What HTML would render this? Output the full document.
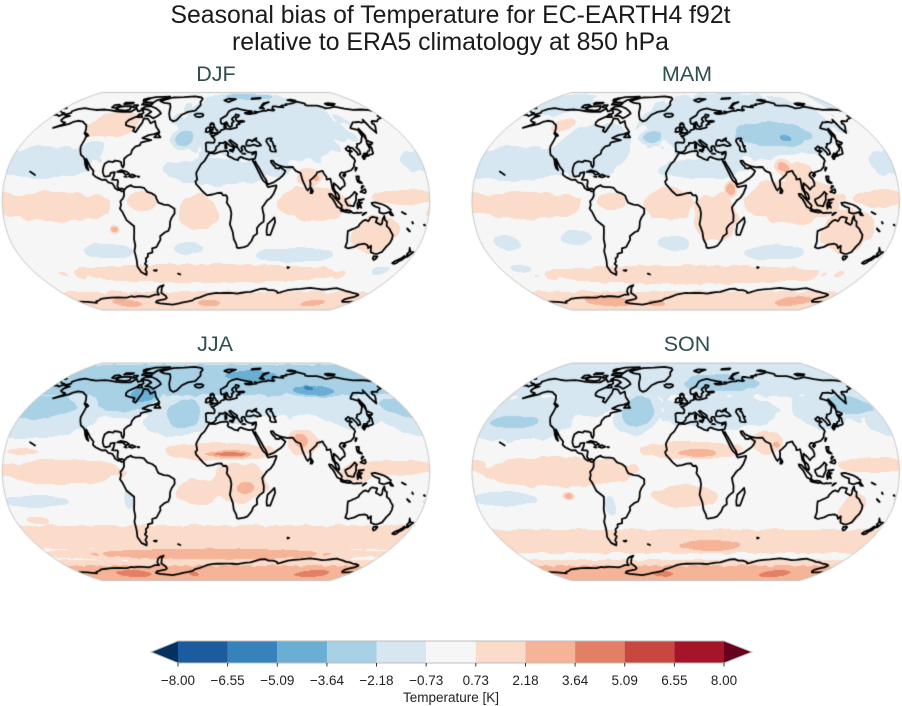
<!DOCTYPE html>
<html><head><meta charset="utf-8">
<style>
html,body{margin:0;padding:0;background:#fff;}
#wrap{position:relative;width:902px;height:706px;overflow:hidden;background:#fff;}
canvas,svg{position:absolute;left:0;top:0;}
text{font-family:"Liberation Sans",Arial,sans-serif;}
</style></head>
<body><div id="wrap">
<canvas id="cv" width="902" height="706"></canvas>
<svg width="902" height="706" viewBox="0 0 902 706" xmlns="http://www.w3.org/2000/svg">
<text x="450.5" y="23" font-size="24.8" text-anchor="middle" fill="#1a1a1a">Seasonal bias of Temperature for EC-EARTH4 f92t</text>
<text x="450.5" y="50" font-size="24.8" text-anchor="middle" fill="#1a1a1a">relative to ERA5 climatology at 850 hPa</text>
<g font-size="21.5" fill="#2f4f4f" text-anchor="middle">
<text x="216" y="81">DJF</text>
<text x="687" y="81">MAM</text>
<text x="215" y="351">JJA</text>
<text x="687" y="351">SON</text>
</g>
<g>
<polygon points="178,641 151,652 178,663" fill="#053061"/>
<polygon points="724,641 752,652 724,663" fill="#67001f"/>
<rect x="178" y="641" width="49.7" height="22" fill="#1c5c9e"/>
<rect x="227.6" y="641" width="49.7" height="22" fill="#3683bb"/>
<rect x="277.3" y="641" width="49.7" height="22" fill="#6aaed4"/>
<rect x="326.9" y="641" width="49.7" height="22" fill="#a8d1e5"/>
<rect x="376.5" y="641" width="49.7" height="22" fill="#d6e7f1"/>
<rect x="426.2" y="641" width="49.7" height="22" fill="#f6f6f6"/>
<rect x="475.8" y="641" width="49.7" height="22" fill="#fbdccb"/>
<rect x="525.5" y="641" width="49.7" height="22" fill="#f5b497"/>
<rect x="575.1" y="641" width="49.7" height="22" fill="#e27f65"/>
<rect x="624.7" y="641" width="49.7" height="22" fill="#c8473f"/>
<rect x="674.4" y="641" width="49.6" height="22" fill="#a51429"/>
<polygon points="151,652 178,641 724,641 752,652 724,663 178,663" fill="none" stroke="#bdbdbd" stroke-width="1"/>
<g stroke="#333" stroke-width="1">
<line x1="178" y1="663" x2="178" y2="666.5"/><line x1="227.6" y1="663" x2="227.6" y2="666.5"/>
<line x1="277.3" y1="663" x2="277.3" y2="666.5"/><line x1="326.9" y1="663" x2="326.9" y2="666.5"/>
<line x1="376.5" y1="663" x2="376.5" y2="666.5"/><line x1="426.2" y1="663" x2="426.2" y2="666.5"/>
<line x1="475.8" y1="663" x2="475.8" y2="666.5"/><line x1="525.5" y1="663" x2="525.5" y2="666.5"/>
<line x1="575.1" y1="663" x2="575.1" y2="666.5"/><line x1="624.7" y1="663" x2="624.7" y2="666.5"/>
<line x1="674.4" y1="663" x2="674.4" y2="666.5"/><line x1="724" y1="663" x2="724" y2="666.5"/>
</g>
<g font-size="13.5" fill="#222" text-anchor="middle">
<text x="178" y="685">−8.00</text><text x="227.6" y="685">−6.55</text>
<text x="277.3" y="685">−5.09</text><text x="326.9" y="685">−3.64</text>
<text x="376.5" y="685">−2.18</text><text x="426.2" y="685">−0.73</text>
<text x="475.8" y="685">0.73</text><text x="525.5" y="685">2.18</text>
<text x="575.1" y="685">3.64</text><text x="624.7" y="685">5.09</text>
<text x="674.4" y="685">6.55</text><text x="724" y="685">8.00</text>
</g>
<text x="451" y="702" font-size="13.5" fill="#222" text-anchor="middle">Temperature [K]</text>
</g>
</svg>
</div>
<script>
(function(){
const XT=[1,.9986,.9954,.99,.9822,.973,.96,.9427,.9216,.8962,.8679,.835,.7986,.7597,.7186,.6732,.6213,.5722,.5322];
const YT=[0,.062,.124,.186,.248,.31,.372,.434,.4958,.5571,.6176,.6769,.7346,.7903,.8435,.8936,.9394,.9761,1];
function XY(lat){const a=Math.min(90,Math.abs(lat))/5;let i=Math.floor(a);if(i>17)i=17;const f=a-i;
 return [XT[i]+(XT[i+1]-XT[i])*f,(YT[i]+(YT[i+1]-YT[i])*f)*(lat<0?-1:1)];}
function invY(Y){for(let i=0;i<18;i++){if(Y<=YT[i+1])return 5*(i+(Y-YT[i])/(YT[i+1]-YT[i]));}return 90;}
const W=213.8,H=108.75;
const PAN=[[216,201.25],[685.7,201.25],[216,471.8],[685.7,471.8]];
function proj(lon,lat,p){const r=XY(lat);return [p[0]+W*r[0]*lon/180,p[1]-H*r[1]];}
const LV=[-8,-6.55,-5.09,-3.64,-2.18,-0.73,0.73,2.18,3.64,5.09,6.55,8];
const COL=['#053061','#1c5c9e','#3683bb','#6aaed4','#a8d1e5','#d6e7f1','#f6f6f6','#fbdccb','#f5b497','#e27f65','#c8473f','#a51429','#67001f'];
const RGB=COL.map(c=>[parseInt(c.substr(1,2),16),parseInt(c.substr(3,2),16),parseInt(c.substr(5,2),16)]);
function colIdx(v){let i=0;while(i<12&&v>=LV[i])i++;return i;}

const B=[
[[-150,29,52,13,-1.5],[45,58,95,32,-1.5],[0,22,50,11,-1.5],[50,25,15,8,-1.5],[-30,47,12,8,-2.9],[45,83,45,5,-2.9],
 [-112,38,12,9,-1.5],[-97,-37,25,6,-1.5],[-25,-35,14,5,-1.5],[70,-40,40,6,-1.5],[160,-52,10,4,-1.5],
 [-105,58,28,12,1.5],[-135,-4,55,12,1.5],[82,-2,32,14,1.5],[138,-25,22,15,1.5],[160,3,30,6,1.5],[80,18,12,8,1.5],
 [-15,-8,18,14,1.5],[-62,0,13,8,1.5],[-10,-54,150,8,1.5],[0,-82,1000,14,1.6],[-120,-80,25,6,2.9],[-10,-80,20,5,2.9],
 [130,-80,20,5,2.9],[-87,-21,4,3,2.9],[85,17,4,3,2.9]],
[[-150,28,55,14,-1.5],[-155,76,40,12,-1.5],[-85,38,38,22,-1.5],[55,60,110,32,-1.5],[-32,48,12,6,-2.9],[85,50,50,13,-2.9],
 [95,47,8,4,-4.3],[15,24,40,8,-1.5],[-157,-31,13,6,-1.5],[-95,-27,14,6,-1.5],[-10,-31,15,6,-1.5],[80,-38,30,6,-1.5],
 [-160,-51,12,4,-1.5],[-125,57,12,6,1.5],[-135,-3,55,11,1.5],[-15,-2,22,13,1.5],[90,0,45,18,1.5],[140,-22,25,18,1.5],
 [165,2,25,7,1.5],[95,22,18,10,1.5],[85,26,8,6,2.9],[25,-12,20,20,1.5],[38,9,5,6,2.9],[-62,0,13,7,1.5],
 [0,-55,160,8,1.5],[0,-82,1000,14,1.7],[-100,-78,40,8,2.9],[140,-78,30,7,2.9],[-40,-80,15,5,2.9]],
[[0,65,1000,25,-1.6],[-160,38,50,14,-1.6],[-40,38,25,12,-1.6],[15,45,30,10,-1.6],[125,45,30,14,-1.6],
 [0,72,1000,20,-2.9],[-168,48,45,12,-2.9],[-90,55,40,14,-2.9],[-30,43,22,15,-2.9],[-75,58,22,9,-4.3],
 [105,61,35,6,-4.3],[45,74,50,8,-4.3],[100,63,8,3,-5.8],[-155,-22,28,5,-1.5],[-75,-20,4,8,-1.5],
 [2,15,50,7,1.6],[12,13,26,4,2.9],[11,13,22,2.2,4.3],[75,22,15,10,1.6],[73,23,8,7,2.9],[20,-8,25,16,1.6],
 [25,-12,10,6,2.9],[-130,0,55,10,1.5],[-15,-15,20,10,1.5],[150,3,40,6,1.5],[120,0,15,8,1.5],
 [-165,15,15,2.5,1.5],[-160,-36,10,3,1.5],
 [0,-49,1000,10,1.5],[-5,-62,170,6,2.9],[0,-82,1000,14,2.9],[-110,-80,35,6,4.3],[130,-80,35,6,4.3],[-30,-80,10,4,4.3]],
[[-150,40,55,18,-1.6],[-155,37,32,6,-2.9],[158,50,28,10,-2.9],[0,75,1000,20,-1.6],[-95,55,35,15,-1.6],
 [-45,45,20,16,-2.9],[40,68,60,10,-2.9],[30,45,60,14,-1.6],[125,45,25,14,-1.6],[-155,-20,28,6,-1.5],
 [-65,-25,5,8,-1.5],[5,16,45,7,1.6],[10,14,22,4,2.9],[70,22,15,9,1.6],[78,20,4,3,2.9],[-108,0,70,12,1.5],
 [-100,-18,5,3,2.9],[0,-18,30,9,1.5],[160,5,35,6,1.5],[145,-28,12,12,1.5],[0,-52,1000,10,1.5],
 [25,-55,40,6,2.9],[0,-82,1000,14,2.9],[-30,-80,20,5,4.3],[120,-80,30,6,4.3]]
];
function field(lon,lat,BB){let pos=0,neg=0;
 for(let k=0;k<BB.length;k++){const b=BB[k];let dl=lon-b[0];if(dl>180)dl-=360;else if(dl<-180)dl+=360;
  const u=dl/b[2],w=(lat-b[1])/b[3];const d2=u*u+w*w;if(d2>4)continue;const g=Math.exp(-d2*d2)*b[4];
  if(g>pos)pos=g;else if(g<neg)neg=g;}
 const n=0.2*Math.sin(lon*0.19+lat*0.11)*Math.cos(lat*0.27-lon*0.05)+0.12*Math.sin(lon*0.43+1)*Math.sin(lat*0.37);
 return pos+neg+n;}

const cv=document.getElementById('cv');const ctx=cv.getContext('2d');
for(let k=0;k<4;k++){const p=PAN[k];
 const x0=Math.floor(p[0]-W)-1,y0=Math.floor(p[1]-H)-1,w=Math.ceil(2*W)+3,h=Math.ceil(2*H)+3;
 const im=ctx.createImageData(w,h);const d=im.data;
 for(let j=0;j<h;j++){const py=y0+j+0.5;const Yv=(p[1]-py)/H;if(Math.abs(Yv)>1)continue;
  const lat=invY(Math.abs(Yv))*(Yv<0?-1:1);const X=XY(lat)[0];
  for(let i=0;i<w;i++){const px=x0+i+0.5;const lon=(px-p[0])/(W*X)*180;if(Math.abs(lon)>180)continue;
   const c=RGB[colIdx(field(lon,lat,B[k]))];const o=(j*w+i)*4;d[o]=c[0];d[o+1]=c[1];d[o+2]=c[2];d[o+3]=255;}}
 ctx.putImageData(im,x0,y0);}

const OPEN=[
[-77.8,7.5,-80,7.3,-80.5,8.2,-83,8.3,-85.7,10,-86,11,-88,13.3,-91.5,14,-94,16,-97,15.8,-100,17,-103,18.2,-105.5,20,-105.5,22.5,-109,25.5,-112,29,-114.5,31.5,-113,29,-112,26.5,-110,23,-112,24.5,-114,27.5,-115,30,-117,32.5,-120.5,34.5,-122.5,37.5,-124,40.5,-124,46,-124.5,48.3,-123,49,-125,50,-128,51,-130,54,-133,57,-137,58.5,-140,59.8,-146,60.5,-150,59.5,-152,58,-156,57,-160,56,-164,54.8,-158,57.5,-157.5,59,-162,59.8,-165,61,-165,63,-161,64.5,-166,64.5,-168,65.6,-164,67,-166,68.5,-162,70.3,-156,71.3,-148,70.3,-140,69.6,-130,70,-124,69.5,-115,68.5,-108,68,-98,68,-94,71,-90,68.5,-85,69.5,-82,67,-87,64,-93,61,-94,59,-92.5,57,-88,56,-82,55,-82,52.5,-79,51.5,-78,55,-77,59,-78,62.5,-73,62,-70,60,-68,58.5,-64.5,60.3,-61,56,-57,53,-55.5,51.5,-60,50,-65,49.2,-70,47,-64,46,-61,45.5,-66,44.5,-70,43.5,-70,41.7,-74,40.6,-76,38,-76,35,-79,33.5,-81,31.5,-80,27,-80.5,25,-82,26.5,-83,29,-85,29.7,-89,30.2,-90,29,-94,29.6,-97,27.8,-97.5,25,-97.5,22,-96,19,-94.5,18.2,-91,18.8,-90.5,21,-87,21.5,-87.5,18,-88.5,16,-84,15.8,-83.3,15,-83.5,11,-81.7,9,-79.5,9.5,-77.5,8.5],
[-77.5,8.5,-75.5,10.5,-72,12,-71,11,-68,10.5,-64,10.5,-61,10,-58,7,-54,5.8,-51,4,-50,1.8,-48.5,-1,-44,-2.5,-40,-2.8,-35,-5.5,-35,-9,-37.5,-12,-39,-15,-39.5,-19,-41,-22,-44,-23,-48.5,-26,-48.5,-28.5,-50.5,-31,-53,-34,-57,-35,-57.5,-38,-62,-39,-62.5,-41,-65,-42.5,-65.5,-45,-67.5,-46.5,-66,-48,-69,-51,-68.5,-52.5,-70,-55,-74,-53,-75.5,-48.5,-74,-44,-73.5,-40,-73.5,-37,-71.5,-33,-71.5,-28,-70.5,-23,-70,-18.5,-72,-17,-76,-14,-79,-8,-81,-5.5,-80,-2.5,-80.5,0,-78.5,2,-77.5,4,-77.8,7.5],
[32.5,30,33.8,27.8,34.5,29.5,35,28,37,25,39,21.5,41,18,42.8,15.5,43.5,12.7,45,12.8,49,14,52,15.8,55,17.5,57,18.9,58.5,20.5,59.8,22.5,58,23.7,56.3,24.7,56.3,26.3,54.5,24.3,51.5,24.5,51,26,50,26.5,48.5,28.5,48,30,50,30.1,51.5,27.9,54.5,26.6,57,25.8,61.5,25.2,66.5,25.4,67.5,23.9,69,22.3,72.5,21,73,19,73.5,16,74.8,12.8,76.3,9.5,77.5,8,78.3,8.9,79.8,10.3,80.2,13.5,80,15.5,82.3,17,86,19.8,87,21.5,89,21.9,91.8,22.5,92.5,20.6,94.3,18.2,94.3,16,97.5,16.7,98,13.5,98.5,9,100.3,6.5,101.3,2.9,103.5,1.3,104,2,103.4,4.8,102.2,6.2,100.5,7.5,99.5,10.2,100,13.4,101,12.6,103,11,105,8.6,106.7,10.4,109,11.5,109.3,13.4,108.3,16.2,106.5,18.1,105.8,19.2,106.7,20.7,108,21.5,110,21,110.5,20.3,111,21.5,113.5,22.2,116.5,23,119.5,25.5,120.5,28,122,29.9,121.7,31.5,120.5,33,119.3,34.5,120,36.2,122.5,37,121,37.7,119,37.2,118,38.2,117.8,39.2,119.5,39.9,121,40.8,122,40.3,121.5,39,124,39.8,125.5,37.8,126.5,36,126.5,34.4,129,35,129.5,36.5,129.5,38,128,40,129.7,41,130.6,42.5,133,42.8,135.5,43.9,138,46.5,140.3,48.5,140.5,51,141.3,53,137.5,54,135.2,54.7,137,56,140,57.5,143,59.2,146,59.3,149,59.5,152,58.9,155,59.5,156.8,61.5,156,57.5,155.5,55,156.7,50.9,158.5,52.9,160,54.2,162,56,163.3,57.8,162,58,163.5,59.8,165,60.3,170,60,173,61.5,177,62.5,179.5,63,178,64.5,180,65.2],
[180,68.9,178,69.4,170,70,160,69.7,152,70.9,143,72.6,136,71.6,130,71,128,72.5,124,73.6,113,73.6,110,74,112,75.5,105,77.5,100,76.5,98,76,92,75.3,87,75,87,74,80,73.5,81,72,78,72.3,75,72.5,72.5,72.8,69,72.9,66.5,70.7,68,69.5,66,69,60.5,69.8,58,68.8,54,68.8,48,67.8,44,68.3,46,67,41,66.5,38,66,34,66.3,32.5,67,41,67.5,41,68.5,36,69.1,30,70,25,71,19,70,15,68.5,12.5,66,12,65,8.5,63.5,5,62,5,59,6,58,8,58.1,10,59,11,59.5,12,58,11.5,58,12.8,56.2,14.3,55.5,16,56.2,16.5,57,16.4,58.5,19,60,17,61.5,17.8,62.8,21.5,64.5,22,65.8,25.5,65.2,25,64.2,21.3,62.5,21.5,60.7,23,60,28,60.5,30,60,28,59.5,23.5,59.2,23.5,58.5,24.5,57.8,21.5,57.4,21,56,21.2,55.2,18.5,54.7,14.2,53.9,11,54,10.5,54.5,10,55,10,57.5,8.6,57,8.2,55.5,8.9,54,7,53.5,5,53,4,51.5,1.8,50.9,1.5,50.1,-1,49.4,-1.5,48.7,-4.5,48.6,-2.5,47.2,-1.2,46,-1.4,44,-2,43.4,-8,43.7,-9.5,43,-9,39,-8.8,37,-6,36.5,-5.5,36,-2,36.7,0,38.5,0,40,3,42,3,43.3,6.5,43.1,8.5,44.3,10.5,43,12.5,41.5,15.7,40,16,38,16.5,39.5,17,40.5,18.5,40.1,16,41.5,13.5,43.5,12.3,45,13.7,45.5,15,44.5,19.5,41.8,19.4,40.3,21,38,22.5,36.5,24,38,23,39.5,24,40.8,26,40.8,26.5,40.2,26.2,39.5,27,37.7,28.5,36.7,30.5,36.3,32.5,36.1,36,36.8,35.9,35,35,33,34.3,31.5,32.3,31.3],
[-180,65.2,-177,65.5,-173,64.3,-172,65.3,-169.8,66,-171,66.8,-175,67.3,-178,68.3,-180,68.9],
[-180,-78.2,-170,-78.5,-160,-79.5,-157,-78,-150,-76.8,-145,-75.5,-137,-74.8,-130,-74.3,-120,-74,-115,-74.3,-110,-74.2,-103,-73,-100,-73.5,-95,-73,-90,-73,-82,-73.5,-77,-72.5,-73,-71.5,-68,-71.5,-68,-69,-65,-66,-62,-64.5,-57,-63.3,-58,-64,-60,-65,-62,-67.5,-64,-70,-61,-72.5,-61,-74.5,-64,-75.7,-70,-76.5,-77,-77.5,-80,-79,-76,-80,-60,-81.5,-50,-80,-44,-79,-36,-78,-30,-77,-27,-75.5,-20,-74,-15,-72.7,-10,-71.2,-5,-70.5,0,-70,5,-70.2,10,-70,15,-70,20,-70.2,25,-70.5,30,-69.8,35,-69.2,40,-69,45,-67.8,50,-66.5,55,-66.2,60,-67.5,65,-67.5,70,-68.5,72,-70,75,-69.5,78,-68.5,82,-67.5,88,-66.8,95,-66.4,100,-66,105,-65.5,110,-66,115,-66.5,120,-67,125,-66.8,130,-66.3,135,-65.8,140,-66.7,145,-67.5,150,-68.5,155,-69,160,-70,165,-70.5,170,-71.5,171,-72,170,-73.5,166,-74.5,163,-76,164,-77.5,167,-78.5,175,-78.5,180,-78.2],
[-160,22,-155,19.5],[115,-8.5,117,-8.8,119,-8.5,121,-8.6,123,-8.4]
];
const CLOSED=[
[-6,35.8,-10,30,-13,27.5,-16.5,22,-17,20.5,-16,16,-17.5,14.7,-16.7,12.5,-15,11,-13,9,-11,7,-7.5,4.4,-3,5,1,6,4.5,6.3,6,4.3,8.5,4.5,9.5,3,9.5,1,9,-1,12,-5,13,-9,12.5,-13.5,11.8,-17,14.5,-23,15.5,-28,18,-32,18.5,-34.2,20,-34.8,25,-34,28,-33,31,-29.5,32.5,-26,35.5,-24,35,-20,37,-17.5,40.5,-15,40.5,-10.5,39.5,-7,39,-4.5,41,-2,43,0.5,46,2.5,48.5,5.5,51,10.5,51.2,11.8,48,11.2,44,10.5,43.3,11.7,42.5,13.5,40,15.5,38.5,18,37,21,35.5,24,34,27,32.5,30,32.3,31.3,29,30.9,25,31.8,22,32.9,20,32,19.5,30.5,17,31,15.5,31.5,13,32.8,11.5,33.2,10.2,34.2,11,35.5,10.5,37,9.5,37.3,4,36.8,-1,35.3],
[-73,78,-66,80,-60,82,-45,82.5,-30,83.5,-20,82,-18,80,-20,77,-19,74,-22,71,-24,69,-32,68,-38,65.5,-42,61,-45,60,-49,61.5,-51,64,-53,67,-54,70,-55,72.5,-58,75.5,-66,76.2],
[-62,66.5,-65,64,-68,62.5,-73,64.5,-78,64.5,-74,68,-80,70,-88,70.5,-85,73,-78,72.8,-71,71,-65,68.5],
[-117,70,-105,69,-101,70,-103,73,-111,73,-117,72.5],
[-80,76.5,-90,77,-95,80,-85,82.5,-65,83,-70,80.5,-78,79],
[-125,72,-121,71.5,-115,73,-120,74.5,-125,74],
[-92,74.5,-80,74,-80,76,-92,76.5],[-100,72,-96,72,-96,74,-101,74],[-115,75,-105,75.5,-105,76.5,-115,76.5],
[-86,63.5,-80.5,63.5,-83,65.5,-86,66],[-95,78,-90,80.5,-93,81,-97,79.5],
[-22,64,-24,65.5,-22,66.4,-16,66.5,-14,65.5,-14.5,64.4,-18,63.4],
[-5.7,50,-3,50.5,1.3,51.2,1.7,52.7,0,53.5,-0.5,54.5,-1.5,55.5,-2,56,-2,57.6,-4,57.6,-3,58.6,-5,58.6,-6,57.5,-5.6,56,-4.8,55,-3,54.9,-3.2,54,-3,53.3,-4.5,53.2,-4.3,52.2,-5.2,51.6,-3,51.4,-4,51],
[-6,52,-6,53.9,-5.5,54.6,-7,55.3,-8.5,55,-10,54,-9.8,53,-10.3,51.8,-8.5,51.6],
[11,78.8,17,80.4,27,80,20,78.2,17,77,13,78],
[52,71.5,57,70.6,55,73,60,75.8,68,76.9,62,75.5,57,73.5,55.5,72.3],
[95,79,100,79.5,105,78.5,100,78],[137,75.5,142,76,149,75.2,145,74,138,74],[48,80,60,80.5,62,81.5,50,81],
[28,41.3,31.5,41.2,35,42,38,40.9,41.5,41.5,40,43.5,38,44.5,37.5,45.2,38.5,47,35,45.5,36.5,45.3,33.5,44.5,32.5,45.4,30,45.5,29.5,45,28.6,44,28,42.5],
[47,44.5,48.5,41.8,49.5,40.2,49,38,50,37,54,36.8,54,38,53,40,54.5,40.8,52.8,41.5,53,42.5,52.5,44.5,51,45,53,46.7,50,46.8,48,46],
[12.5,38,15.6,38.2,15.1,36.7,12.5,37.6],[8.5,39,9.6,39.2,9.7,41,9.4,43,8.6,42.5,8.4,40.8],
[23.5,35.3,26.3,35.2,24,35.5],[32.3,34.7,34.6,35.6,33,35.2],
[130.9,34,132.5,35.5,135.5,35.6,136.8,37.1,138.5,37.5,140,39.5,140,41,141.5,41.3,142,39.5,141,37,140.8,35.7,139.8,35,138.5,34.7,137,34.5,135.3,33.6,135,34.6,132,33.8],
[129.8,33.2,131,33.9,132,32.8,131,31.3,130.2,31.3],[132.5,33,134.7,33.8,133,34.3],
[140,41.5,139.9,42.6,141.5,45.4,143,44.5,145.5,43.3,143.5,42,141,42.3],
[142,46,143.5,49,143,52,142.8,54.3,142.2,53.7,141.8,51,142,48],
[120.2,22.6,121.8,24.8,121,25,120.2,23.5],[108.6,19.2,110,20,111,19.6,109.6,18.2],
[120,18.5,122.2,18.5,121.5,15.5,124,13.5,122,13.7,120.5,14.5,120,16],
[122,7,123.5,8,126,9,126.5,7,125.5,6,124,6.5],[123,10,124,11.5,125,11,123,9.5],
[109,1.5,110.5,2,113,3.2,115.5,5.3,117,7,119,5.2,118,4.5,118,1,117.5,0,116.5,-2,116,-3.8,114.5,-3.5,111,-3,110,-1.5,109,0],
[95.3,5.5,97.5,5.2,100.5,2.2,103.8,-1,106,-3,105.8,-5.8,104,-5,102,-4,100.5,-1.5,98.5,1.5,96,3.8],
[105.2,-6.8,106.5,-6,108.5,-6.7,111,-6.5,113,-6.9,114.5,-7.8,112.5,-8.4,110,-8.1,106.5,-7.4],
[119.5,-5.5,120.5,-2.5,121,-4,122.5,-4.8,121.3,-2,123,-1,121,-1,120,1,124.5,1.5,120.5,0.5,119,-2],
[131,-1.2,134,-0.8,137,-1.5,141,-2.6,145,-4.5,146,-5.5,147.5,-6.2,147.2,-7.5,150,-10.5,148,-10.2,146,-8,143,-9,141,-9.1,138,-8.3,137.8,-5,134.5,-4,132,-2.8],
[124,-10.3,127,-8.4,125,-9],
[113.5,-22,114,-26,115,-30,115,-34,118,-35,123,-33.8,126,-32.2,131,-31.5,134,-32.5,135.8,-34.8,137.5,-33,138.3,-35,140,-37.8,143.5,-38.8,146.3,-39.1,150,-37.5,151.2,-33.8,153,-31,153.5,-28,153,-25,150.5,-22.5,149,-20.5,146,-18.5,145.3,-15,143.5,-14,142.5,-10.8,141.6,-13,141.5,-16.5,140.5,-17.5,139,-16.8,136,-15.5,136.8,-12.3,132.5,-11.5,131,-12.2,129.5,-14.8,127,-13.8,125,-14.5,122.2,-17.3,122,-18.5,119,-20,117,-20.7,114.5,-21.8],
[144.7,-40.7,148.3,-40.9,148,-43,146.8,-43.6,145,-42.3],
[172.7,-34.5,174.5,-36.5,175.9,-37.5,178.5,-37.7,177,-39.5,176,-41.3,174.6,-41.3,175,-39.8,173.8,-39.2,174.6,-37.5],
[172.7,-40.5,174.2,-41.5,173.3,-43,172.7,-43.8,171.2,-44.5,170.5,-45.9,169,-46.6,166.5,-46,167,-45,168.5,-44,170.5,-43,172,-41.7],
[164,-20.2,167,-22.3,166.5,-22.3,164,-20.5],[157,-8,160.5,-9.5,159,-9],[177.5,-17.5,178.5,-18,178,-17.3],[167,-15.3,168,-16.5,167.3,-16],
[44,-25,47,-25,50.3,-15.5,49.5,-12,47.5,-14,44,-17,43.5,-22],
[79.8,6,80.5,9.8,81.9,7.5,81,6],
[-85,21.8,-82,23,-77,22,-74.2,20.2,-77.5,19.8,-80,21.7],[-74.5,18.4,-72,19.9,-68.5,18.6,-71.5,17.7],
[-78.3,18.3,-76.3,18,-77,18.5],[-67,18.4,-65.6,18.2,-66.3,18],
[-59,47.6,-56,51.6,-55.5,49.5,-53,47.5],[-128.3,50.7,-125.5,50.2,-123.3,48.4,-125,48.8],
[68.8,-49,70.5,-49.2,69.5,-49.7],[-61,-51.5,-58,-51.3,-59,-52],[-38,-54,-35.8,-54.7,-36.5,-54.5],
[-180,71,-178,71.5,-177.5,71]
];
function outline(p){ctx.beginPath();let q=proj(-180,90,p);ctx.moveTo(q[0],q[1]);
 for(let lat=90;lat>=-90;lat-=1){q=proj(180,lat,p);ctx.lineTo(q[0],q[1]);}
 for(let lat=-90;lat<=90;lat+=1){q=proj(-180,lat,p);ctx.lineTo(q[0],q[1]);}ctx.closePath();}
function line(a,p,closed){ctx.beginPath();let q=proj(a[0],a[1],p);ctx.moveTo(q[0],q[1]);
 for(let i=2;i<a.length;i+=2){q=proj(a[i],a[i+1],p);ctx.lineTo(q[0],q[1]);}if(closed)ctx.closePath();ctx.stroke();}
for(let k=0;k<4;k++){const p=PAN[k];
 ctx.save();outline(p);ctx.clip();
 ctx.strokeStyle='#000';ctx.lineWidth=1.8;ctx.lineJoin='round';ctx.lineCap='round';
 OPEN.forEach(a=>line(a,p,false));CLOSED.forEach(a=>line(a,p,true));
 ctx.restore();
 outline(p);ctx.strokeStyle='#c4c4c4';ctx.lineWidth=1;ctx.stroke();}
})();
</script>
</body></html>
